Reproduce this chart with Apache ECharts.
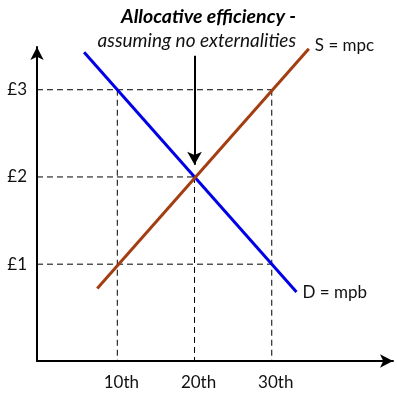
<!DOCTYPE html>
<html><head><meta charset="utf-8">
<script src="https://cdn.jsdelivr.net/npm/echarts@6/dist/echarts.min.js"></script>
<style>html,body{margin:0;padding:0;background:#fff}#c{width:397px;height:397px}</style>
</head><body><div id="c"></div>
<script>
// Data
var demandPoints = [[5.7, 3.43], [33.2, 0.68]];   // D = mpb
var supplyPoints = [[7.4, 0.72], [34.8, 3.47]];   // S = mpc
var xTicks = [10, 20, 30];
var xTickLabels = ['10th', '20th', '30th'];
var yTicks = [1, 2, 3];
var yTickLabels = ['£1', '£2', '£3'];
var equilibrium = [20, 2];
var guideEnds = [[30, 3], [20, 2], [30, 1]];   // horizontal guides end at these points
var guideVerts = [[10, 3], [20, 2], [30, 3]];  // vertical guides start at these points
var arrowFromTo = [[20, 3.39], [20, 2.14]];
var xMin = -0.4, xMax = 45.7, yMin = -0.11, yMax = 3.49;
var titleText = 'Allocative efficiency -';
var subText = 'assuming no externalities';
var demandLabel = 'D = mpb', supplyLabel = 'S = mpc';

var FONT = 'Lato';
var dashStyle = {color: '#000', width: 1, type: [6, 4]};
var series = [];
guideEnds.forEach(function (p) {
  series.push({type: 'line', data: [[xMin, p[1]], p], symbol: 'none', silent: true,
    lineStyle: dashStyle, z: 1});
});
guideVerts.forEach(function (p) {
  series.push({type: 'line', data: [p, [p[0], yMin]], symbol: 'none', silent: true,
    lineStyle: dashStyle, z: 1});
});
series.push({type: 'line', data: demandPoints, symbol: 'none', z: 3,
  lineStyle: {color: '#0000e6', width: 3},
  endLabel: {show: true, formatter: demandLabel, fontFamily: FONT, fontSize: 17, color: '#111', distance: 6}});
series.push({type: 'line', data: supplyPoints, symbol: 'none', z: 4,
  lineStyle: {color: '#a33d12', width: 3},
  endLabel: {show: true, formatter: supplyLabel, fontFamily: FONT, fontSize: 17, color: '#111', distance: 6, offset: [0, -3]}});
series.push({type: 'line', data: [], symbol: 'none',
  markLine: {silent: true, symbol: ['none', 'arrow'], symbolSize: [11, 13], label: {show: false},
    lineStyle: {color: '#000', width: 2, type: 'solid'},
    data: [[{coord: arrowFromTo[0]}, {coord: arrowFromTo[1]}]]}});

var chart = echarts.init(document.getElementById('c'));
chart.setOption({
  animation: false,
  backgroundColor: '#fff',
  title: [
    {text: titleText, right: 96, top: 2, textStyle: {fontFamily: FONT, fontSize: 19.5, fontWeight: 'bold', fontStyle: 'italic', color: '#000'}},
    {text: subText, right: 96, top: 26, textStyle: {fontFamily: FONT, fontSize: 19, fontWeight: 'normal', fontStyle: 'italic', color: '#111'}}
  ],
  grid: {left: 37, right: 4, top: 47, bottom: 36, containLabel: false},
  xAxis: {type: 'value', min: xMin, max: xMax, splitLine: {show: false},
    axisLine: {onZero: false, symbol: ['none', 'arrow'], symbolSize: [10, 13], symbolOffset: [0, 0], lineStyle: {color: '#000', width: 2}},
    axisTick: {show: false},
    axisLabel: {customValues: xTicks, formatter: function (v) { return xTickLabels[xTicks.indexOf(v)]; },
      margin: 13, fontFamily: FONT, fontSize: 17, color: '#111', padding: [0, 0, 0, 8]}},
  yAxis: {type: 'value', min: yMin, max: yMax, splitLine: {show: false},
    axisLine: {onZero: false, symbol: ['none', 'arrow'], symbolSize: [10, 13], symbolOffset: [0, 0], lineStyle: {color: '#000', width: 2}},
    axisTick: {show: false},
    axisLabel: {customValues: yTicks, formatter: function (v) { return yTickLabels[yTicks.indexOf(v)]; },
      margin: 10, fontFamily: FONT, fontSize: 17, color: '#111'}},
  series: series
});
</script></body></html>
